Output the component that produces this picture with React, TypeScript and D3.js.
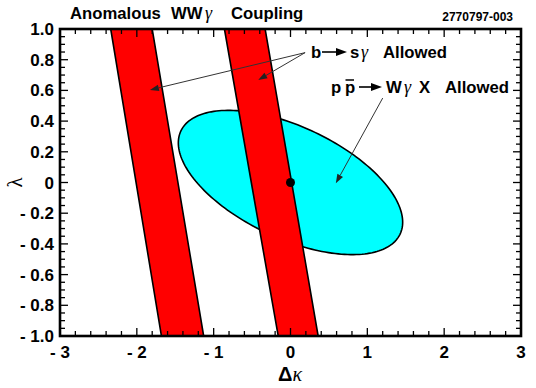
import React from "react";
import * as d3 from "d3";

// b -> s gamma allowed bands: delta-kappa edges at lambda = +1 (top) and -1 (bottom)
const bandTopLeft = [-2.34, -0.86];
const bandTopRight = [-1.8, -0.33];
const bandBottomLeft = [-1.68, -0.16];
const bandBottomRight = [-1.13, 0.36];

// p pbar -> W gamma X allowed ellipse
const ellipseCenter = [0, 0];
const ellipseHalfWidth = 1.46;
const ellipseHalfHeight = 0.47;
const ellipseCorr = -0.55;

// Standard Model point
const smPoint = [0, 0];

// annotation arrows [from, to] in data units
const bsgArrowFrom = [0.19, 0.846];
const bsgArrowTargets = [
  [-1.83, 0.603],
  [-0.42, 0.668],
];
const ppArrowFrom = [1.2, 0.55];
const ppArrowTo = [0.59, -0.005];

const xDomain = [-3, 3];
const yDomain = [-1, 1];

const W = 536;
const H = 388;
const FONT = "'Liberation Sans', Arial, Helvetica, sans-serif";
const GREEK = "'Liberation Serif', 'DejaVu Serif', serif";

const x = d3.scaleLinear().domain(xDomain).range([60, 521]);
const y = d3.scaleLinear().domain(yDomain).range([336, 29]);

const fmt = (v: number, digits: number) => {
  if (Math.abs(v) < 1e-9) return "0";
  const s = Math.abs(v).toFixed(digits);
  return v < 0 ? "- " + s : s;
};

function Arrow({ from, to }: { from: number[]; to: number[] }) {
  const x1 = x(from[0]), y1 = y(from[1]);
  const x2 = x(to[0]), y2 = y(to[1]);
  const ang = Math.atan2(y2 - y1, x2 - x1);
  const len = 9, hw = 3.2;
  const bx = x2 - len * Math.cos(ang), by = y2 - len * Math.sin(ang);
  const px = -Math.sin(ang) * hw, py = Math.cos(ang) * hw;
  return (
    <g>
      <line x1={x1} y1={y1} x2={bx} y2={by} stroke="#333" strokeWidth={1} />
      <polygon
        points={`${x2},${y2} ${bx + px},${by + py} ${bx - px},${by - py}`}
        fill="#222"
      />
    </g>
  );
}

function TextArrow({ x0, x1, yb }: { x0: number; x1: number; yb: number }) {
  const yy = yb - 6;
  return (
    <g>
      <line x1={x0} y1={yy} x2={x1 - 8} y2={yy} stroke="#000" strokeWidth={1.6} />
      <polygon points={`${x1},${yy} ${x1 - 11},${yy - 4} ${x1 - 11},${yy + 4}`} fill="#000" />
    </g>
  );
}

export default function App() {
  const [x0, x1] = x.range();
  const [y0, y1] = y.range();

  const bands = bandTopLeft.map((_, i) => {
    const pts: [number, number][] = [
      [bandTopLeft[i], 1],
      [bandTopRight[i], 1],
      [bandBottomRight[i], -1],
      [bandBottomLeft[i], -1],
    ];
    return pts;
  });

  const ellipsePts: [number, number][] = d3.range(0, 200).map((k) => {
    const t = (k / 200) * Math.PI * 2;
    const ex = ellipseCenter[0] + ellipseHalfWidth * Math.cos(t);
    const ey =
      ellipseCenter[1] +
      ellipseHalfHeight *
        (ellipseCorr * Math.cos(t) + Math.sqrt(1 - ellipseCorr * ellipseCorr) * Math.sin(t));
    return [ex, ey];
  });

  const line = d3
    .line<[number, number]>()
    .x((d) => x(d[0]))
    .y((d) => y(d[1]))
    .curve(d3.curveLinearClosed);

  const xMinor = x.ticks(30);
  const xMajor = x.ticks(6);
  const yMinor = y.ticks(40);
  const yMajor = y.ticks(10);
  const minorLen = 5;
  const majorLen = 8;

  const isIn = (v: number, arr: number[]) => arr.some((a) => Math.abs(a - v) < 1e-9);

  return (
    <svg
      width={W}
      height={H}
      style={{ position: "absolute", left: 0, top: 0, background: "#fff" }}
      fontFamily={FONT}
    >
      {/* ellipse */}
      <path d={line(ellipsePts) || ""} fill="#00ffff" stroke="#000" strokeWidth={1.6} />

      {/* bands */}
      {bands.map((b, i) => (
        <path key={i} d={line(b) || ""} fill="#ff0000" stroke="#000" strokeWidth={1.6} />
      ))}

      {/* SM point */}
      <circle cx={x(smPoint[0])} cy={y(smPoint[1])} r={4.5} fill="#000" />

      {/* ticks */}
      <g stroke="#000" strokeWidth={1.3}>
        {xMinor.map((v) => {
          const L = isIn(v, xMajor) ? majorLen : minorLen;
          return (
            <g key={"x" + v}>
              <line x1={x(v)} x2={x(v)} y1={y0} y2={y0 - L} />
              <line x1={x(v)} x2={x(v)} y1={y1} y2={y1 + L} />
            </g>
          );
        })}
        {yMinor.map((v) => {
          const L = isIn(v, yMajor) ? majorLen : minorLen;
          return (
            <g key={"y" + v}>
              <line x1={x0} x2={x0 + L} y1={y(v)} y2={y(v)} />
              <line x1={x1} x2={x1 - L} y1={y(v)} y2={y(v)} />
            </g>
          );
        })}
      </g>

      {/* frame */}
      <rect x={x0} y={y1} width={x1 - x0} height={y0 - y1} fill="none" stroke="#000" strokeWidth={2.6} />

      {/* tick labels */}
      <g fontSize={17} fontWeight="bold" fill="#000">
        {xMajor.map((v) => (
          <text key={"xl" + v} x={x(v)} y={358} textAnchor="middle">
            {fmt(v, 0)}
          </text>
        ))}
        {yMajor.map((v) => (
          <text key={"yl" + v} x={54} y={y(v) + 6} textAnchor="end">
            {fmt(v, 1)}
          </text>
        ))}
      </g>

      {/* axis titles */}
      <text x={290} y={381} textAnchor="middle" fontSize={20}>
        <tspan fontWeight="bold">Δ</tspan>
        <tspan fontStyle="italic" fontFamily={GREEK}>κ</tspan>
      </text>
      <text
        transform={`translate(22, ${y(0)}) rotate(-90)`}
        textAnchor="middle"
        fontSize={21}
        fontFamily={GREEK}
      >
        λ
      </text>

      {/* title */}
      <g fontSize={16.7} fontWeight="bold">
        <text x={70} y={19}>Anomalous</text>
        <text x={171} y={19}>WW</text>
        <text x={205} y={19} fontWeight="normal" fontStyle="italic" fontFamily={GREEK} fontSize={18}>γ</text>
        <text x={231} y={19}>Coupling</text>
      </g>
      <text x={513} y={21} textAnchor="end" fontSize={12} fontWeight="bold">
        2770797-003
      </text>

      {/* annotations */}
      <g fontSize={16.7} fontWeight="bold">
        <text x={311} y={58}>b</text>
        <TextArrow x0={322} x1={347} yb={58} />
        <text x={350} y={58}>s</text>
        <text x={361} y={58} fontWeight="normal" fontStyle="italic" fontFamily={GREEK} fontSize={18}>γ</text>
        <text x={383} y={58}>Allowed</text>

        <text x={331} y={93}>p</text>
        <text x={345} y={93}>p</text>
        <line x1={345.5} x2={354} y1={80} y2={80} stroke="#000" strokeWidth={1.5} />
        <TextArrow x0={359} x1={382} yb={93} />
        <text x={386} y={93}>W</text>
        <text x={404} y={93} fontWeight="normal" fontStyle="italic" fontFamily={GREEK} fontSize={18}>γ</text>
        <text x={419} y={93}>X</text>
        <text x={445} y={93}>Allowed</text>
      </g>

      {bsgArrowTargets.map((t, i) => (
        <Arrow key={i} from={bsgArrowFrom} to={t} />
      ))}
      <Arrow from={ppArrowFrom} to={ppArrowTo} />
    </svg>
  );
}
